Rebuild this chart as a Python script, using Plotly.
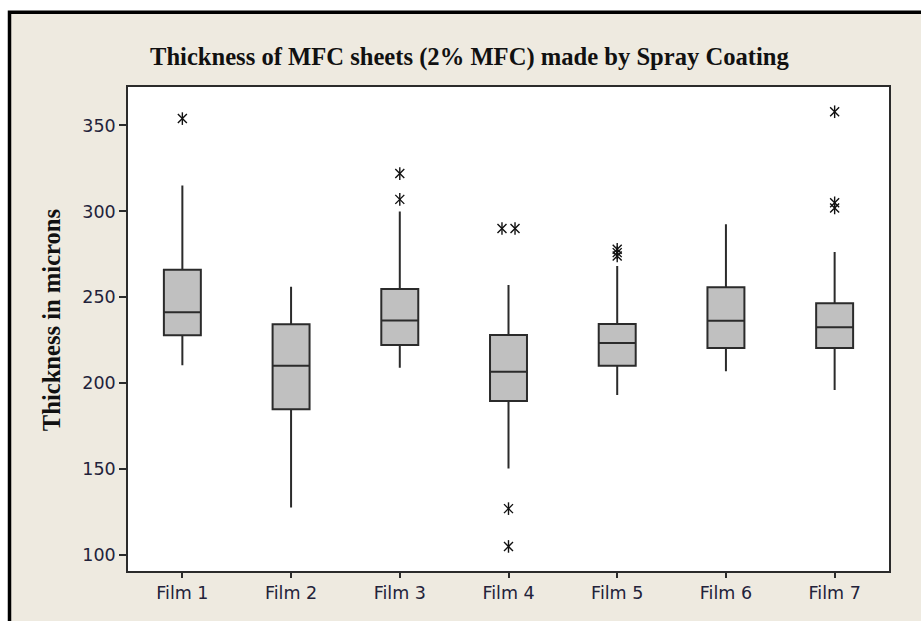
import plotly.graph_objects as go
from collections import Counter

# Five-number summaries of sheet thickness (microns) per film
films = ["Film 1", "Film 2", "Film 3", "Film 4", "Film 5", "Film 6", "Film 7"]
q1 = [227.9, 184.9, 222.3, 189.7, 210.1, 220.5, 220.5]
median = [241.3, 210.1, 236.5, 206.6, 223.4, 236.4, 232.5]
q3 = [266.1, 234.3, 254.8, 228.0, 234.4, 255.8, 246.5]
whisker_low = [210.5, 127.6, 209.0, 150.3, 193.1, 207.0, 196.0]
whisker_high = [315.0, 256.2, 299.9, 257.2, 268.2, 292.5, 276.4]

# Outlying measurements (film index 1..7, thickness)
outlier_film = [1, 3, 3, 4, 4, 4, 4, 5, 5, 5, 7, 7, 7]
outlier_value = [354, 322, 307, 290, 290, 127, 105, 278, 276, 274, 358, 305, 302]

positions = list(range(1, len(films) + 1))

# tied outliers are set side by side
tie_count = Counter(zip(outlier_film, outlier_value))
tie_seen = Counter()
outlier_x = []
for f, v in zip(outlier_film, outlier_value):
    n = tie_count[(f, v)]
    k = tie_seen[(f, v)]
    tie_seen[(f, v)] += 1
    outlier_x.append(f + (k - (n - 1) / 2) * 0.12)

INK = "#2b2b2b"
TICK_FONT = dict(family="DejaVu Sans", size=17.5, color="#22223a")

fig = go.Figure()
fig.add_trace(go.Box(
    x=positions, q1=q1, median=median, q3=q3,
    lowerfence=whisker_low, upperfence=whisker_high,
    width=0.34, whiskerwidth=0, boxpoints=False,
    fillcolor="#c0c0c0", line=dict(color=INK, width=2),
    showlegend=False, hoverinfo="skip",
))
# Minitab-style asterisk: a thin x crossed with a vertical stroke
for sym in ("x-thin-open", "line-ns-open"):
    fig.add_trace(go.Scatter(
        x=outlier_x, y=outlier_value, mode="markers",
        marker=dict(symbol=sym, size=9, color="#111111",
                    line=dict(color="#111111", width=1.4)),
        showlegend=False, hoverinfo="skip",
    ))

W, H = 921, 621
ML, MR, MT, MB = 128.3, 31.7, 87.3, 50.3
PW, PH = W - ML - MR, H - MT - MB


def px_x(p):
    return (p - ML) / PW


def px_y(p):
    return (H - MB - p) / PH


fig.update_layout(
    width=W, height=H, autosize=False,
    margin=dict(l=ML, r=MR, t=MT, b=MB),
    paper_bgcolor="white", plot_bgcolor="white",
    shapes=[
        # outer panel
        dict(type="rect", xref="paper", yref="paper", layer="below",
             x0=px_x(9.8), x1=px_x(960), y0=px_y(660), y1=px_y(12.6),
             fillcolor="#eeeae0", line=dict(color="black", width=3.5)),
        # data region
        dict(type="rect", xref="paper", yref="paper", layer="below",
             x0=0, x1=1, y0=0, y1=1, fillcolor="white", line=dict(width=0)),
    ],
    annotations=[
        dict(text="<b>Thickness of MFC sheets (2% MFC) made by Spray Coating</b>",
             xref="paper", yref="paper", x=px_x(470), y=px_y(57),
             showarrow=False, xanchor="center", yanchor="middle",
             font=dict(family="Liberation Serif", size=24.6, color="#111111")),
        dict(text="<b>Thickness in microns</b>",
             xref="paper", yref="paper", x=px_x(52.5), y=px_y(320),
             showarrow=False, textangle=-90, xanchor="center", yanchor="middle",
             font=dict(family="Liberation Serif", size=24.6, color="#111111")),
    ],
    xaxis=dict(
        range=[0.5, 7.5], tickmode="array", tickvals=positions, ticktext=films,
        ticks="outside", ticklen=5, tickwidth=1.5, tickcolor=INK,
        showline=True, linecolor=INK, linewidth=1.6, mirror=True,
        showgrid=False, zeroline=False, tickfont=TICK_FONT,
    ),
    yaxis=dict(
        range=[90.7, 372.4], tickmode="array", tickvals=[100, 150, 200, 250, 300, 350],
        ticks="outside", ticklen=7, tickwidth=1.5, tickcolor=INK,
        showline=True, linecolor=INK, linewidth=1.6, mirror=True,
        showgrid=False, zeroline=False, tickfont=TICK_FONT,
    ),
)

fig.write_html("out.html")
